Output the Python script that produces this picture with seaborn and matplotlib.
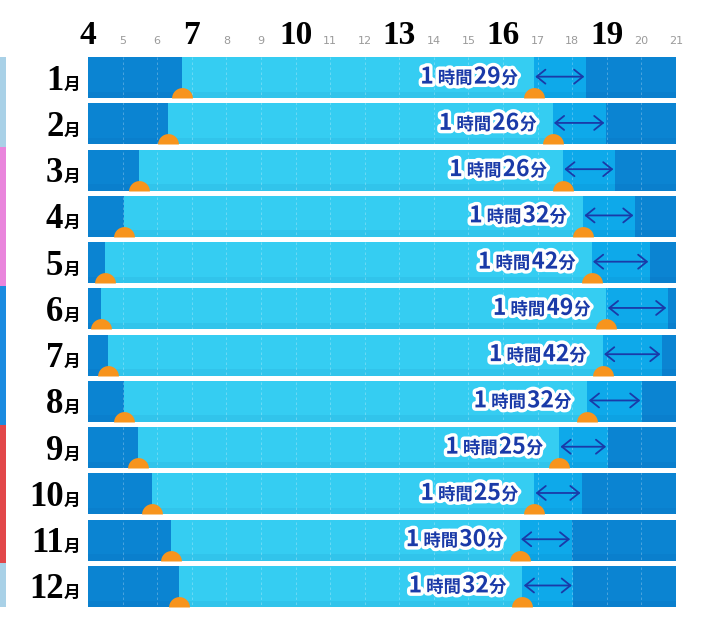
import numpy as np
import pandas as pd
import matplotlib
matplotlib.use("Agg")
import matplotlib.pyplot as plt
import matplotlib.patheffects as pe
from matplotlib.path import Path
from matplotlib.patches import Rectangle
from matplotlib.transforms import blended_transform_factory
import seaborn as sns

# 月ごとのデータ（図から読み取り、時刻は時間単位）
month_nums = [str(m) for m in range(1, 13)]
months = [m + "月" for m in month_nums]
sunrise = [6.72, 6.31, 5.48, 5.03, 4.48, 4.37, 4.58, 5.04, 5.45, 5.84, 6.40, 6.64]
sunset = [16.89, 17.43, 17.73, 18.31, 18.56, 18.99, 18.88, 18.44, 17.62, 16.90, 16.48, 16.56]
dusk_end = [18.39, 18.97, 19.23, 19.81, 20.24, 20.76, 20.59, 20.01, 19.02, 18.28, 17.98, 18.03]
twilight_hours = [1] * 12
twilight_minutes = [29, 26, 26, 32, 42, 49, 42, 32, 25, 25, 30, 32]
seasons = ["冬", "冬", "春", "春", "春", "夏", "夏", "夏", "秋", "秋", "秋", "冬"]

hours = list(range(4, 22))
major_hours = [4, 7, 10, 13, 16, 19]

NIGHT = "#0b84d2"
TWILIGHT = "#0ea9ea"
DAY = "#35cdf2"
SUN = "#f7941d"
ARROW = "#1a3aa8"
SEASON_COLORS = {"冬": "#a9d1e7", "春": "#e985dc", "夏": "#1a8be0", "秋": "#e2474a"}

DPI = 100
W, H_FIG = 701, 630
BAR_H = 0.89

df = pd.DataFrame({
    "month": months,
    "sunrise": sunrise,
    "sunset": sunset,
    "dusk": dusk_end,
    "end": [hours[-1]] * len(months),
})

sns.set_style("white")
plt.rcParams["font.family"] = ["Noto Sans CJK JP", "DejaVu Sans"]

fig = plt.figure(figsize=(W / DPI, H_FIG / DPI), dpi=DPI)
ax = fig.add_axes([88 / W, 23 / H_FIG, 588 / W, 550 / H_FIG])

# 重ね塗り：夜 → 薄明 → 昼 → 夜明け前
for col, color in [("end", NIGHT), ("dusk", TWILIGHT), ("sunset", DAY), ("sunrise", NIGHT)]:
    sns.barplot(data=df, x=col, y="month", color=color, saturation=1,
                width=BAR_H, errorbar=None, linewidth=0, ax=ax, zorder=1)

ypos = np.arange(len(months))

# 下端の街並み風の帯
ax.barh(ypos + BAR_H / 2 - 0.07, hours[-1] - hours[0], left=hours[0], height=0.14,
        color="#003a80", alpha=0.06, linewidth=0, zorder=2)

ax.set_xlim(hours[0], hours[-1])
ax.set_ylim(len(months) - 1 + BAR_H / 2, -BAR_H / 2)

# 時刻の点線
ax.vlines(hours[1:-1], -BAR_H / 2, len(months) - 1 + BAR_H / 2, colors="white",
          linestyles=(0, (3, 3)), linewidth=0.6, alpha=0.3, zorder=3)

# 太陽（半円マーカー）
theta = np.linspace(0, np.pi, 40)
half = np.column_stack([np.cos(theta), np.sin(theta)])
half = np.vstack([half, half[:1]])
sun_marker = Path(half, [Path.MOVETO] + [Path.LINETO] * (len(half) - 2) + [Path.CLOSEPOLY])
for xs in (sunrise, sunset):
    ax.scatter(xs, ypos + BAR_H / 2, marker=sun_marker, s=15 ** 2, color=SUN,
               linewidths=0, zorder=4, clip_on=False)

# 薄明の矢印
for i in range(len(months)):
    ax.annotate("", xy=(dusk_end[i], i - 0.02), xytext=(sunset[i], i - 0.02),
                arrowprops=dict(arrowstyle="<->,head_length=0.45,head_width=0.36",
                                color=ARROW, lw=1.3, shrinkA=1, shrinkB=1,
                                mutation_scale=14), zorder=5)

renderer = fig.canvas.get_renderer()


def draw_parts(x, y, parts, dx, dy, color, stroke=None):
    """右端から順に大きさの違う文字列を並べる（dx, dy はピクセル）"""
    cur = dx
    for text, size, family, gap in reversed(parts):
        t = ax.annotate(text, xy=(x, y), xycoords="data",
                        xytext=(cur * 72 / DPI, dy * 72 / DPI), textcoords="offset points",
                        ha="right", va="baseline", fontsize=size, fontweight="bold",
                        family=family, color=color, zorder=6, annotation_clip=False)
        if stroke:
            t.set_path_effects([pe.withStroke(linewidth=stroke, foreground="white")])
        cur -= t.get_window_extent(renderer).width + gap


jp = ["Noto Sans CJK JP", "DejaVu Sans"]
serif = ["Liberation Serif", "DejaVu Serif"]

for i in range(len(months)):
    parts = [(str(twilight_hours[i]), 16.5, jp, 4), ("時間", 12.5, jp, 4),
             (str(twilight_minutes[i]), 16.5, jp, 1), ("分", 12.5, jp, 0)]
    draw_parts(sunset[i], i, parts, -16, -6, ARROW, stroke=5)
    draw_parts(hours[0], i, [(month_nums[i], 25, serif, 0), ("月", 12, jp, 0)],
               -8, -12, "black")

# 上部の時刻ラベル
ax.set_xticks(hours, [str(h) for h in hours])
ax.tick_params(axis="x", top=True, labeltop=True, bottom=False, labelbottom=False,
               length=0, pad=13 * 72 / DPI)
for tick, h in zip(ax.xaxis.get_major_ticks(), hours):
    lbl = tick.label2
    lbl.set_verticalalignment("baseline")
    if h in major_hours:
        lbl.set_fontsize(24)
        lbl.set_fontweight("bold")
        lbl.set_family(serif)
        lbl.set_color("black")
    else:
        lbl.set_fontsize(8)
        lbl.set_family(["DejaVu Sans"])
        lbl.set_color("#9a9a9a")

ax.tick_params(axis="y", left=False, labelleft=False)
ax.set_xlabel("")
ax.set_ylabel("")
for s in ax.spines.values():
    s.set_visible(False)

# 季節の色帯（左端）
trans = blended_transform_factory(fig.transFigure, ax.transData)
start = 0
for i in range(1, len(seasons) + 1):
    if i == len(seasons) or seasons[i] != seasons[start]:
        y0 = -BAR_H / 2 if start == 0 else start - 0.5
        y1 = len(seasons) - 1 + BAR_H / 2 if i == len(seasons) else i - 0.5
        ax.add_patch(Rectangle((0, y0), 6 / W, y1 - y0, transform=trans,
                               color=SEASON_COLORS[seasons[start]], clip_on=False,
                               linewidth=0))
        start = i

fig.savefig("out.png", dpi=DPI)
